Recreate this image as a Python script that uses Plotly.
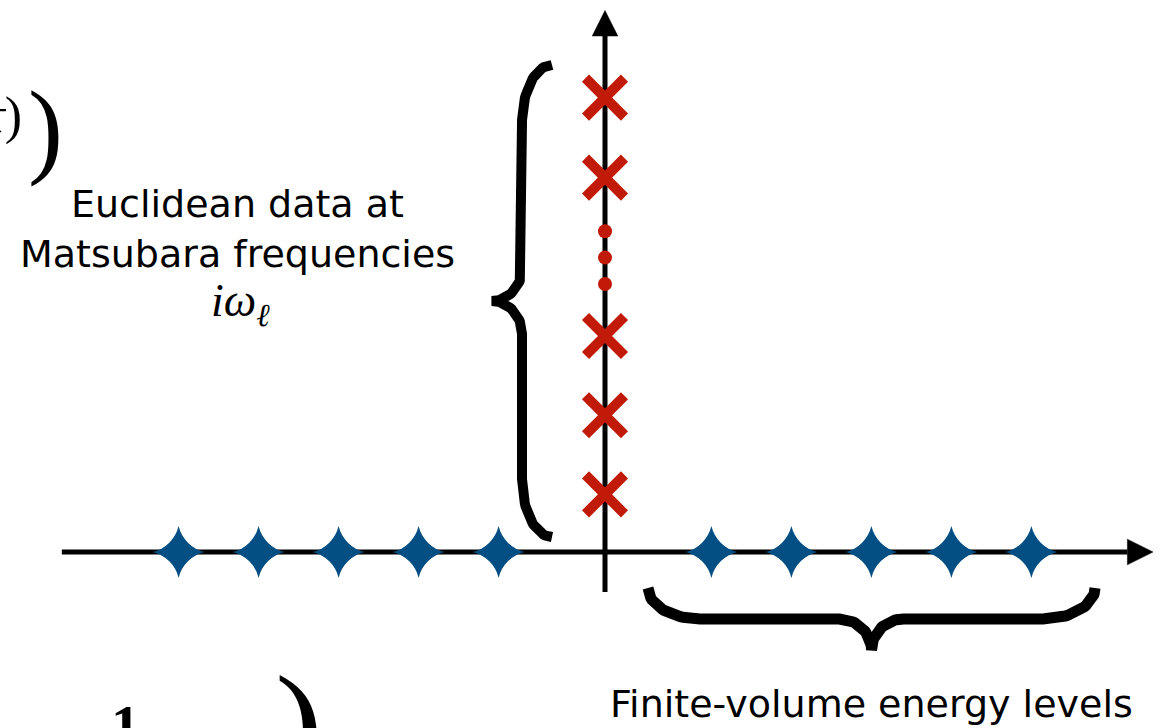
import numpy as np
import plotly.graph_objects as go

# ---------------- data (axis units: one level spacing = 1) ----------------
energy_levels_left = [-5.33, -4.33, -3.33, -2.33, -1.33]
energy_levels_right = [1.33, 2.33, 3.33, 4.33, 5.33]
matsubara_freqs = [0.72, 1.71, 2.70, 4.68, 5.68]
ellipsis_dots = [3.35, 3.68, 4.01]
real_axis = [-6.79, 6.53]          # horizontal axis extent (arrow base at right)
imag_axis = [-0.50, 6.45]          # vertical axis extent (arrow base at top)
arrow_len, arrow_half = 0.32, 0.16

# braces: start, end along the axis, base offset, depth
left_brace = dict(start=6.0875, end=0.1875, base=-0.6625, depth=0.75, curl=0.725, tip=0.41)
bottom_brace = dict(start=0.5375, end=6.125, base=-0.45, depth=0.775, curl=0.65, tip=0.40)

RED = "#c11a08"
BLUE = "#034f84"


def bezier(p0, p1, p2, p3, n=30):
    t = np.linspace(0, 1, n)[:, None]
    p0, p1, p2, p3 = map(np.array, (p0, p1, p2, p3))
    return (1 - t) ** 3 * p0 + 3 * (1 - t) ** 2 * t * p1 + 3 * (1 - t) * t ** 2 * p2 + t ** 3 * p3


def brace_local(L, d, r, t):
    h = d / 2
    s1 = bezier([0, 0], [0, 0.552 * h], [0.448 * r, h], [r, h])
    s3 = bezier([L / 2 - t, h], [L / 2 - t + 0.552 * t, h], [L / 2, d - 0.552 * h], [L / 2, d])
    half = np.vstack([s1, s3])
    other = half[::-1].copy()
    other[:, 0] = L - other[:, 0]
    return np.vstack([half, other])


fig = go.Figure()

# axes lines
fig.add_trace(go.Scatter(x=real_axis, y=[0, 0], mode="lines",
                         line=dict(color="black", width=5), hoverinfo="skip"))
fig.add_trace(go.Scatter(x=[0, 0], y=imag_axis, mode="lines",
                         line=dict(color="black", width=5), hoverinfo="skip"))
# arrow heads
xr = real_axis[1]
fig.add_trace(go.Scatter(x=[xr, xr + arrow_len, xr, xr], y=[arrow_half, 0, -arrow_half, arrow_half],
                         mode="lines", fill="toself", fillcolor="black",
                         line=dict(color="black", width=0.5), hoverinfo="skip"))
yt = imag_axis[1]
fig.add_trace(go.Scatter(x=[-arrow_half, 0, arrow_half, -arrow_half], y=[yt, yt + arrow_len, yt, yt],
                         mode="lines", fill="toself", fillcolor="black",
                         line=dict(color="black", width=0.5), hoverinfo="skip"))

# braces
p = brace_local(left_brace["start"] - left_brace["end"], left_brace["depth"],
                left_brace["curl"], left_brace["tip"])
fig.add_trace(go.Scatter(x=left_brace["base"] - p[:, 1], y=left_brace["start"] - p[:, 0],
                         mode="lines", line=dict(color="black", width=10), hoverinfo="skip"))
p = brace_local(bottom_brace["end"] - bottom_brace["start"], bottom_brace["depth"],
                bottom_brace["curl"], bottom_brace["tip"])
fig.add_trace(go.Scatter(x=bottom_brace["start"] + p[:, 0], y=bottom_brace["base"] - p[:, 1],
                         mode="lines", line=dict(color="black", width=11), hoverinfo="skip"))

# finite-volume energy levels
fig.add_trace(go.Scatter(x=energy_levels_left + energy_levels_right,
                         y=[0] * (len(energy_levels_left) + len(energy_levels_right)),
                         mode="markers",
                         marker=dict(symbol="star-diamond", size=37, color=BLUE,
                                     line=dict(color=BLUE, width=0)),
                         hoverinfo="skip"))
# Matsubara frequencies
fig.add_trace(go.Scatter(x=[0] * len(matsubara_freqs), y=matsubara_freqs, mode="markers",
                         marker=dict(symbol="x-thin-open", size=39, color=RED,
                                     line=dict(color=RED, width=10)),
                         hoverinfo="skip"))
fig.add_trace(go.Scatter(x=[0] * len(ellipsis_dots), y=ellipsis_dots, mode="markers",
                         marker=dict(symbol="circle", size=14, color=RED), hoverinfo="skip"))

SANS = "DejaVu Sans"
SERIF = "Liberation Serif"
ann = [
    dict(x=-4.59, y=4.35, text="Euclidean data at", font=dict(family=SANS, size=38, color="black")),
    dict(x=-4.59, y=3.72, text="Matsubara frequencies", font=dict(family=SANS, size=38, color="black")),
    dict(x=-4.56, y=3.10, text="<i>iω</i><sub><i>ℓ</i></sub>", font=dict(family=SERIF, size=46, color="black")),
    dict(x=3.33, y=-1.9, text="Finite-volume energy levels", font=dict(family=SANS, size=38, color="black")),
    # partial formulas cut by the frame
    dict(x=-7.275, y=5.45, text="<i>τ</i>)", xanchor="right", font=dict(family=SERIF, size=52, color="black")),
    dict(x=-6.99, y=5.30, text=")", font=dict(family=SERIF, size=105, color="black")),
    dict(x=-6.0, y=-1.75, text="<b>1</b>", yanchor="top", font=dict(family=SERIF, size=58, color="black")),
    dict(x=-3.83, y=-1.16, text=")", yanchor="top", font=dict(family=SERIF, size=145, color="black")),
]
for a in ann:
    a.setdefault("xanchor", "center")
    a.setdefault("yanchor", "middle")
    fig.add_annotation(xref="x", yref="y", showarrow=False, borderpad=0, **a)

fig.update_layout(
    width=1163, height=728, margin=dict(l=0, r=0, t=0, b=0),
    paper_bgcolor="white", plot_bgcolor="white", showlegend=False,
    xaxis=dict(range=[-605 / 80, (1163 - 605) / 80], visible=False, fixedrange=True),
    yaxis=dict(range=[-(728 - 552) / 80, 552 / 80], visible=False, fixedrange=True),
)
fig.write_html("out.html", config={"displayModeBar": False},
               post_script="document.body.style.margin='0px';document.body.style.overflow='hidden';")
